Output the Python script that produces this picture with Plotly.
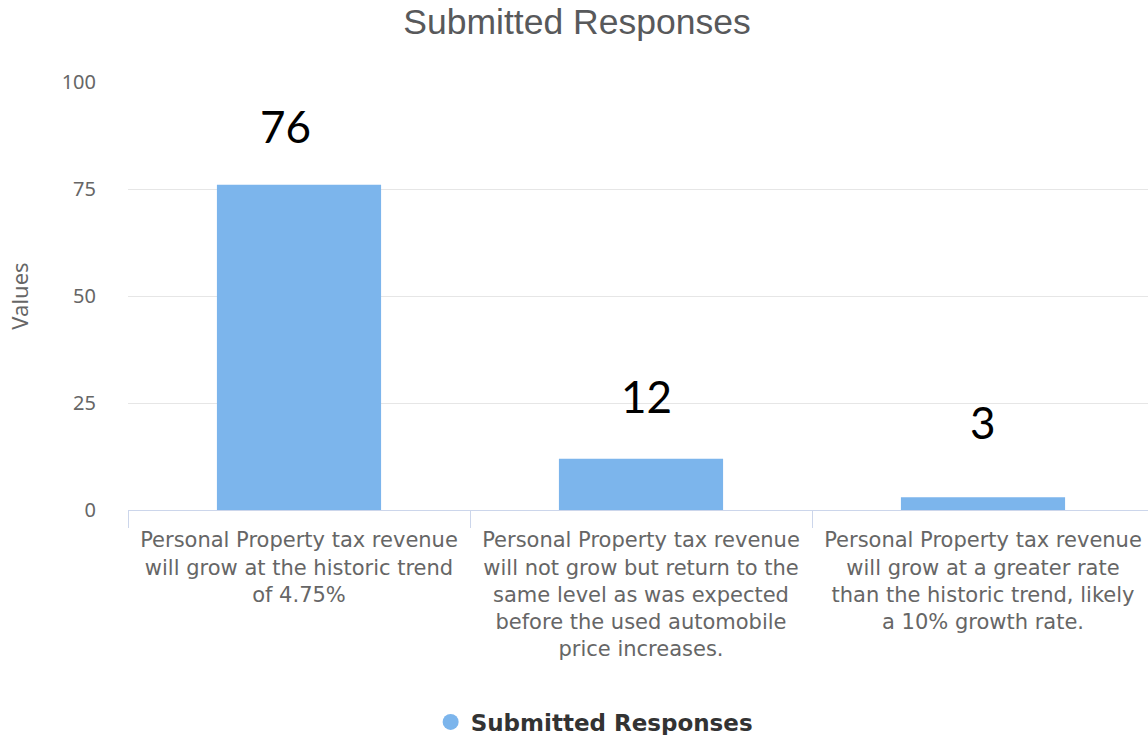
import plotly.graph_objects as go

# Survey answers and their response counts
categories = [
    "Personal Property tax revenue<br>will grow at the historic trend<br>of 4.75%",
    "Personal Property tax revenue<br>will not grow but return to the<br>same level as was expected<br>before the used automobile<br>price increases.",
    "Personal Property tax revenue<br>will grow at a greater rate<br>than the historic trend, likely<br>a 10% growth rate.",
]
responses = [76, 12, 3]
y_ticks = [0, 25, 50, 75, 100]
series_name = "Submitted Responses"
chart_title = "Submitted Responses"
y_title = "Values"

# label nudges (pixels)
label_xshift = [-14, 5, 0]
label_yshift = [31, 35, 47]

BAR_COLOR = "#7cb5ec"
GRID_COLOR = "#e6e6e6"
AXIS_COLOR = "#ccd6eb"
LABEL_COLOR = "#666666"

fig = go.Figure()
fig.add_trace(go.Bar(
    x=categories,
    y=responses,
    name=series_name,
    marker=dict(color=BAR_COLOR, line=dict(width=0)),
    width=0.48,
    showlegend=False,
    hoverinfo="x+y",
))
# legend entry drawn as a round marker
fig.add_trace(go.Scatter(
    x=[None], y=[None], mode="markers", name=series_name,
    marker=dict(color=BAR_COLOR, size=22, symbol="circle"),
    showlegend=True,
))

# value labels above each bar
for cat, val, dx, dy in zip(categories, responses, label_xshift, label_yshift):
    fig.add_annotation(
        x=cat, y=val, text=str(val), showarrow=False,
        yanchor="bottom", yshift=dy, xshift=dx,
        font=dict(family="Lato, Arial, sans-serif", size=44, color="#000000"),
    )

fig.update_layout(
    width=1148, height=735,
    paper_bgcolor="white", plot_bgcolor="white",
    margin=dict(l=128, r=0, t=82, b=225, autoexpand=False),
    title=dict(
        text=chart_title, x=0.5026, xref="container", xanchor="center",
        y=1 - 22 / 735, yref="container", yanchor="middle",
        font=dict(family="Liberation Sans, Arial, sans-serif", size=35.5, color="#58595b"),
    ),
    xaxis=dict(
        type="category",
        range=[-0.5, -0.5 + 1020 / 342],
        showgrid=False,
        showline=True, linecolor=AXIS_COLOR, linewidth=1,
        ticks="outside", tickson="boundaries", ticklen=17, tickcolor=AXIS_COLOR,
        tickfont=dict(family="DejaVu Sans, sans-serif", size=21, color=LABEL_COLOR),
        tickangle=0,
        ticklabelstandoff=11,
        automargin=False,
        fixedrange=True,
    ),
    yaxis=dict(
        range=[0, 100],
        tickvals=y_ticks,
        showgrid=True, gridcolor=GRID_COLOR, gridwidth=1,
        zeroline=False, showline=False,
        tickfont=dict(family="Noto Sans, sans-serif", size=20, color=LABEL_COLOR),
        ticklabelstandoff=31,
        title=dict(text=y_title, standoff=26,
                   font=dict(family="Noto Sans, sans-serif", size=22, color=LABEL_COLOR)),
        automargin=False,
        fixedrange=True,
    ),
    legend=dict(
        orientation="h", x=0.457, xanchor="center",
        yref="container", y=1 - 722 / 735, yanchor="middle",
        font=dict(family="DejaVu Sans, sans-serif", size=23, color="#333333", weight="bold"),
        itemsizing="trace",
    ),
    bargap=0.52,
)

fig.write_html("out.html")
